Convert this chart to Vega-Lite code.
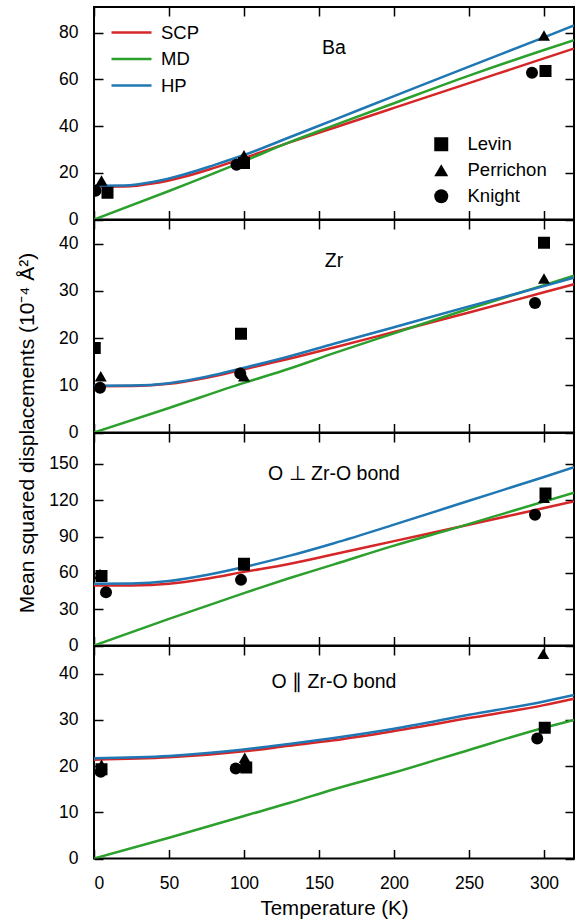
{
  "$schema": "https://vega.github.io/schema/vega-lite/v6.json",
  "padding": {"left": 14, "top": 5, "right": 5, "bottom": 5},
  "spacing": 0,
  "bounds": "flush",
  "datasets": {
    "ba_lines": [
      {"model": "SCP", "T": 0, "v": 14.0}, {"model": "SCP", "T": 20, "v": 14.1}, {"model": "SCP", "T": 40, "v": 15.5}, {"model": "SCP", "T": 60, "v": 18.3}, {"model": "SCP", "T": 80, "v": 22.1}, {"model": "SCP", "T": 100, "v": 26.3}, {"model": "SCP", "T": 130, "v": 32.9}, {"model": "SCP", "T": 160, "v": 39.3}, {"model": "SCP", "T": 200, "v": 47.8}, {"model": "SCP", "T": 250, "v": 58.4}, {"model": "SCP", "T": 300, "v": 69.0}, {"model": "SCP", "T": 320, "v": 73.2},
      {"model": "MD", "T": 0, "v": 0}, {"model": "MD", "T": 50, "v": 12.2}, {"model": "MD", "T": 100, "v": 25.0}, {"model": "MD", "T": 130, "v": 33.0}, {"model": "MD", "T": 160, "v": 40.3}, {"model": "MD", "T": 200, "v": 49.8}, {"model": "MD", "T": 250, "v": 61.6}, {"model": "MD", "T": 300, "v": 72.6}, {"model": "MD", "T": 320, "v": 76.8},
      {"model": "HP", "T": 0, "v": 14.5}, {"model": "HP", "T": 20, "v": 14.6}, {"model": "HP", "T": 40, "v": 16.2}, {"model": "HP", "T": 60, "v": 19.3}, {"model": "HP", "T": 80, "v": 23.3}, {"model": "HP", "T": 100, "v": 27.6}, {"model": "HP", "T": 130, "v": 35.1}, {"model": "HP", "T": 160, "v": 42.7}, {"model": "HP", "T": 200, "v": 52.8}, {"model": "HP", "T": 250, "v": 65.5}, {"model": "HP", "T": 300, "v": 78.0}, {"model": "HP", "T": 320, "v": 83.1}
    ],
    "ba_pts": [
      {"src": "Levin", "T": 9, "v": 11.5}, {"src": "Levin", "T": 100, "v": 24.2}, {"src": "Levin", "T": 301, "v": 63.6},
      {"src": "Perrichon", "T": 5, "v": 16.7}, {"src": "Perrichon", "T": 100, "v": 27.5}, {"src": "Perrichon", "T": 300, "v": 78.8},
      {"src": "Knight", "T": 1, "v": 12.3}, {"src": "Knight", "T": 95, "v": 23.4}, {"src": "Knight", "T": 292, "v": 62.8}
    ],
    "zr_lines": [
      {"model": "SCP", "T": 0, "v": 9.8}, {"model": "SCP", "T": 25, "v": 9.85}, {"model": "SCP", "T": 50, "v": 10.3}, {"model": "SCP", "T": 75, "v": 11.6}, {"model": "SCP", "T": 100, "v": 13.4}, {"model": "SCP", "T": 130, "v": 15.6}, {"model": "SCP", "T": 160, "v": 18.0}, {"model": "SCP", "T": 200, "v": 21.3}, {"model": "SCP", "T": 250, "v": 25.4}, {"model": "SCP", "T": 300, "v": 29.7}, {"model": "SCP", "T": 320, "v": 31.4},
      {"model": "MD", "T": 0, "v": 0}, {"model": "MD", "T": 50, "v": 5.2}, {"model": "MD", "T": 100, "v": 10.5}, {"model": "MD", "T": 130, "v": 13.5}, {"model": "MD", "T": 160, "v": 16.8}, {"model": "MD", "T": 200, "v": 21.0}, {"model": "MD", "T": 250, "v": 26.2}, {"model": "MD", "T": 300, "v": 31.2}, {"model": "MD", "T": 320, "v": 33.2},
      {"model": "HP", "T": 0, "v": 9.9}, {"model": "HP", "T": 25, "v": 9.95}, {"model": "HP", "T": 50, "v": 10.45}, {"model": "HP", "T": 75, "v": 11.8}, {"model": "HP", "T": 100, "v": 13.7}, {"model": "HP", "T": 130, "v": 16.1}, {"model": "HP", "T": 160, "v": 18.8}, {"model": "HP", "T": 200, "v": 22.3}, {"model": "HP", "T": 250, "v": 26.7}, {"model": "HP", "T": 300, "v": 31.0}, {"model": "HP", "T": 320, "v": 32.8}
    ],
    "zr_pts": [
      {"src": "Levin", "T": 0.5, "v": 17.9}, {"src": "Levin", "T": 98, "v": 20.9}, {"src": "Levin", "T": 300, "v": 40.2},
      {"src": "Perrichon", "T": 4.5, "v": 11.9}, {"src": "Perrichon", "T": 100, "v": 11.9}, {"src": "Perrichon", "T": 300, "v": 32.6},
      {"src": "Knight", "T": 4, "v": 9.5}, {"src": "Knight", "T": 97.5, "v": 12.5}, {"src": "Knight", "T": 294, "v": 27.4}
    ],
    "operp_lines": [
      {"model": "SCP", "T": 0, "v": 49.5}, {"model": "SCP", "T": 25, "v": 49.6}, {"model": "SCP", "T": 50, "v": 51.0}, {"model": "SCP", "T": 75, "v": 55.2}, {"model": "SCP", "T": 100, "v": 60.8}, {"model": "SCP", "T": 130, "v": 67.3}, {"model": "SCP", "T": 160, "v": 75.3}, {"model": "SCP", "T": 200, "v": 86.2}, {"model": "SCP", "T": 243, "v": 97.8}, {"model": "SCP", "T": 280, "v": 108.0}, {"model": "SCP", "T": 320, "v": 119.0},
      {"model": "MD", "T": 0, "v": 0}, {"model": "MD", "T": 50, "v": 22.0}, {"model": "MD", "T": 100, "v": 43.3}, {"model": "MD", "T": 130, "v": 55.5}, {"model": "MD", "T": 160, "v": 67.0}, {"model": "MD", "T": 200, "v": 82.5}, {"model": "MD", "T": 243, "v": 97.8}, {"model": "MD", "T": 280, "v": 111.5}, {"model": "MD", "T": 320, "v": 126.3},
      {"model": "HP", "T": 0, "v": 51.0}, {"model": "HP", "T": 25, "v": 51.2}, {"model": "HP", "T": 50, "v": 53.2}, {"model": "HP", "T": 75, "v": 58.2}, {"model": "HP", "T": 100, "v": 64.8}, {"model": "HP", "T": 130, "v": 74.0}, {"model": "HP", "T": 160, "v": 84.5}, {"model": "HP", "T": 200, "v": 99.8}, {"model": "HP", "T": 250, "v": 119.5}, {"model": "HP", "T": 300, "v": 139.2}, {"model": "HP", "T": 320, "v": 147.2}
    ],
    "operp_pts": [
      {"src": "Levin", "T": 5, "v": 57.5}, {"src": "Levin", "T": 100, "v": 67.5}, {"src": "Levin", "T": 301, "v": 125.5},
      {"src": "Perrichon", "T": 4, "v": 59}, {"src": "Perrichon", "T": 100, "v": 66}, {"src": "Perrichon", "T": 300, "v": 122},
      {"src": "Knight", "T": 8, "v": 44}, {"src": "Knight", "T": 98, "v": 54.2}, {"src": "Knight", "T": 294, "v": 108}
    ],
    "opar_lines": [
      {"model": "SCP", "T": 0, "v": 21.4}, {"model": "SCP", "T": 50, "v": 21.9}, {"model": "SCP", "T": 100, "v": 23.2}, {"model": "SCP", "T": 130, "v": 24.4}, {"model": "SCP", "T": 160, "v": 25.6}, {"model": "SCP", "T": 200, "v": 27.6}, {"model": "SCP", "T": 250, "v": 30.4}, {"model": "SCP", "T": 300, "v": 33.2}, {"model": "SCP", "T": 320, "v": 34.6},
      {"model": "MD", "T": 0, "v": 0}, {"model": "MD", "T": 50, "v": 4.5}, {"model": "MD", "T": 100, "v": 9.2}, {"model": "MD", "T": 130, "v": 12.0}, {"model": "MD", "T": 160, "v": 15.0}, {"model": "MD", "T": 200, "v": 18.6}, {"model": "MD", "T": 250, "v": 23.5}, {"model": "MD", "T": 300, "v": 28.3}, {"model": "MD", "T": 320, "v": 30.0},
      {"model": "HP", "T": 0, "v": 21.7}, {"model": "HP", "T": 50, "v": 22.2}, {"model": "HP", "T": 100, "v": 23.6}, {"model": "HP", "T": 130, "v": 24.8}, {"model": "HP", "T": 160, "v": 26.1}, {"model": "HP", "T": 200, "v": 28.1}, {"model": "HP", "T": 250, "v": 31.1}, {"model": "HP", "T": 300, "v": 34.0}, {"model": "HP", "T": 320, "v": 35.4}
    ],
    "opar_pts": [
      {"src": "Levin", "T": 5, "v": 19.3}, {"src": "Levin", "T": 101.5, "v": 19.7}, {"src": "Levin", "T": 300.5, "v": 28.3},
      {"src": "Perrichon", "T": 5, "v": 20.3}, {"src": "Perrichon", "T": 100.5, "v": 21.8}, {"src": "Perrichon", "T": 299.5, "v": 44.3},
      {"src": "Knight", "T": 4.5, "v": 18.8}, {"src": "Knight", "T": 94.5, "v": 19.5}, {"src": "Knight", "T": 295.5, "v": 26.0}
    ]
  },
  "vconcat": [
    {
      "width": 480, "height": 212.5,
      "title": {"text": "Ba", "orient": "top", "anchor": "middle", "offset": -61, "baseline": "middle", "frame": "group"},
      "layer": [
        {
          "data": {"name": "ba_lines"},
          "mark": {"type": "line", "strokeWidth": 2.5, "interpolate": "monotone", "clip": true},
          "encoding": {
            "x": {"field": "T", "type": "quantitative", "scale": {"domain": [0, 320], "nice": false}, "axis": {"orient": "bottom", "values": [0, 50, 100, 150, 200, 250, 300], "labels": false, "title": null}},
            "y": {"field": "v", "type": "quantitative", "scale": {"domain": [0, 91], "nice": false}, "axis": {"orient": "left", "values": [0, 20, 40, 60, 80], "title": null}},
            "color": {"field": "model", "type": "nominal", "scale": {"domain": ["SCP", "MD", "HP"], "range": ["#d62728", "#2ca02c", "#1f77b4"]},
              "legend": {"orient": "none", "legendX": 26, "legendY": 14, "title": null, "symbolType": "M-2,0H2", "symbolSize": 400, "symbolStrokeWidth": 2.5, "labelOffset": 18, "rowPadding": 5.5, "padding": 0}}
          }
        },
        {
          "data": {"name": "ba_pts"},
          "mark": {"type": "point", "filled": true, "color": "black", "size": 144, "opacity": 1, "clip": true},
          "encoding": {
            "x": {"field": "T", "type": "quantitative", "scale": {"domain": [0, 320], "nice": false}, "axis": {"orient": "top", "values": [0, 50, 100, 150, 200, 250, 300], "labels": false, "title": null}},
            "y": {"field": "v", "type": "quantitative", "scale": {"domain": [0, 91], "nice": false}, "axis": {"orient": "right", "values": [0, 20, 40, 60, 80], "labels": false, "title": null}},
            "shape": {"field": "src", "type": "nominal", "scale": {"domain": ["Levin", "Perrichon", "Knight"], "range": ["square", "triangle-up", "circle"]},
              "legend": {"orient": "none", "legendX": 338, "legendY": 128, "title": null, "symbolSize": 196, "labelOffset": 17, "rowPadding": 6, "padding": 0, "symbolFillColor": "black", "symbolStrokeColor": "black", "symbolOpacity": 1}}
          }
        }
      ],
      "resolve": {"scale": {"x": "independent", "y": "independent"}, "axis": {"x": "independent", "y": "independent"}}
    },
    {
      "width": 480, "height": 212.5,
      "title": {"text": "Zr", "orient": "top", "anchor": "middle", "offset": -61, "baseline": "middle", "frame": "group"},
      "layer": [
        {
          "data": {"name": "zr_lines"},
          "mark": {"type": "line", "strokeWidth": 2.5, "interpolate": "monotone", "clip": true},
          "encoding": {
            "x": {"field": "T", "type": "quantitative", "scale": {"domain": [0, 320], "nice": false}, "axis": {"orient": "bottom", "values": [0, 50, 100, 150, 200, 250, 300], "labels": false, "title": null}},
            "y": {"field": "v", "type": "quantitative", "scale": {"domain": [0, 45], "nice": false}, "axis": {"orient": "left", "values": [0, 10, 20, 30, 40], "title": "Mean squared displacements (10⁻⁴ Å²)", "titleY": 212.5, "titleX": -61, "titleAngle": -90, "titleBaseline": "alphabetic", "titleAlign": "center", "titleFontSize": 21}},
            "color": {"field": "model", "type": "nominal", "scale": {"domain": ["SCP", "MD", "HP"], "range": ["#d62728", "#2ca02c", "#1f77b4"]}, "legend": null}
          }
        },
        {
          "data": {"name": "zr_pts"},
          "mark": {"type": "point", "filled": true, "color": "black", "size": 144, "opacity": 1, "clip": true},
          "encoding": {
            "x": {"field": "T", "type": "quantitative", "scale": {"domain": [0, 320], "nice": false}, "axis": {"orient": "top", "values": [0, 50, 100, 150, 200, 250, 300], "labels": false, "title": null}},
            "y": {"field": "v", "type": "quantitative", "scale": {"domain": [0, 45], "nice": false}, "axis": {"orient": "right", "values": [0, 10, 20, 30, 40], "labels": false, "title": null}},
            "shape": {"field": "src", "type": "nominal", "scale": {"domain": ["Levin", "Perrichon", "Knight"], "range": ["square", "triangle-up", "circle"]}, "legend": null}
          }
        }
      ],
      "resolve": {"scale": {"x": "independent", "y": "independent"}, "axis": {"x": "independent", "y": "independent"}}
    },
    {
      "width": 480, "height": 212.5,
      "title": {"text": "O ⊥ Zr-O bond", "orient": "top", "anchor": "middle", "offset": -61, "baseline": "middle", "frame": "group"},
      "layer": [
        {
          "data": {"name": "operp_lines"},
          "mark": {"type": "line", "strokeWidth": 2.5, "interpolate": "monotone", "clip": true},
          "encoding": {
            "x": {"field": "T", "type": "quantitative", "scale": {"domain": [0, 320], "nice": false}, "axis": {"orient": "bottom", "values": [0, 50, 100, 150, 200, 250, 300], "labels": false, "title": null}},
            "y": {"field": "v", "type": "quantitative", "scale": {"domain": [0, 175.5], "nice": false}, "axis": {"orient": "left", "values": [0, 30, 60, 90, 120, 150], "title": null}},
            "color": {"field": "model", "type": "nominal", "scale": {"domain": ["SCP", "MD", "HP"], "range": ["#d62728", "#2ca02c", "#1f77b4"]}, "legend": null}
          }
        },
        {
          "data": {"name": "operp_pts"},
          "mark": {"type": "point", "filled": true, "color": "black", "size": 144, "opacity": 1, "clip": true},
          "encoding": {
            "x": {"field": "T", "type": "quantitative", "scale": {"domain": [0, 320], "nice": false}, "axis": {"orient": "top", "values": [0, 50, 100, 150, 200, 250, 300], "labels": false, "title": null}},
            "y": {"field": "v", "type": "quantitative", "scale": {"domain": [0, 175.5], "nice": false}, "axis": {"orient": "right", "values": [0, 30, 60, 90, 120, 150], "labels": false, "title": null}},
            "shape": {"field": "src", "type": "nominal", "scale": {"domain": ["Levin", "Perrichon", "Knight"], "range": ["square", "triangle-up", "circle"]}, "legend": null}
          }
        }
      ],
      "resolve": {"scale": {"x": "independent", "y": "independent"}, "axis": {"x": "independent", "y": "independent"}}
    },
    {
      "width": 480, "height": 212.5,
      "title": {"text": "O ∥ Zr-O bond", "orient": "top", "anchor": "middle", "offset": -56, "baseline": "middle", "frame": "group"},
      "layer": [
        {
          "data": {"name": "opar_lines"},
          "mark": {"type": "line", "strokeWidth": 2.5, "interpolate": "monotone", "clip": true},
          "encoding": {
            "x": {"field": "T", "type": "quantitative", "scale": {"domain": [0, 320], "nice": false}, "axis": {"orient": "bottom", "values": [0, 50, 100, 150, 200, 250, 300], "labels": true, "title": "Temperature (K)", "titlePadding": 6}},
            "y": {"field": "v", "type": "quantitative", "scale": {"domain": [0, 46], "nice": false}, "axis": {"orient": "left", "values": [0, 10, 20, 30, 40], "title": null}},
            "color": {"field": "model", "type": "nominal", "scale": {"domain": ["SCP", "MD", "HP"], "range": ["#d62728", "#2ca02c", "#1f77b4"]}, "legend": null}
          }
        },
        {
          "data": {"name": "opar_pts"},
          "mark": {"type": "point", "filled": true, "color": "black", "size": 144, "opacity": 1, "clip": true},
          "encoding": {
            "x": {"field": "T", "type": "quantitative", "scale": {"domain": [0, 320], "nice": false}, "axis": {"orient": "top", "values": [0, 50, 100, 150, 200, 250, 300], "labels": false, "title": null}},
            "y": {"field": "v", "type": "quantitative", "scale": {"domain": [0, 46], "nice": false}, "axis": {"orient": "right", "values": [0, 10, 20, 30, 40], "labels": false, "title": null}},
            "shape": {"field": "src", "type": "nominal", "scale": {"domain": ["Levin", "Perrichon", "Knight"], "range": ["square", "triangle-up", "circle"]}, "legend": null}
          }
        }
      ],
      "resolve": {"scale": {"x": "independent", "y": "independent"}, "axis": {"x": "independent", "y": "independent"}}
    }
  ],
  "resolve": {"scale": {"x": "independent", "y": "independent", "color": "independent", "shape": "independent"}, "legend": {"color": "independent", "shape": "independent"}},
  "config": {
    "font": "Liberation Sans",
    "background": "white",
    "view": {"stroke": "black", "strokeWidth": 2},
    "axis": {"domain": false, "grid": false, "ticks": true, "tickColor": "black", "tickWidth": 1.5, "tickSize": -9, "labelFontSize": 17.5, "labelColor": "black", "labelFont": "Liberation Sans", "labelPadding": 25, "titleFont": "Liberation Sans", "titleFontSize": 20.5, "titleFontWeight": "normal", "titleColor": "black"},
    "legend": {"labelFontSize": 18.5, "labelFont": "Liberation Sans", "labelColor": "black"},
    "title": {"fontSize": 19.5, "fontWeight": "normal", "font": "Liberation Sans", "color": "black"}
  }
}
